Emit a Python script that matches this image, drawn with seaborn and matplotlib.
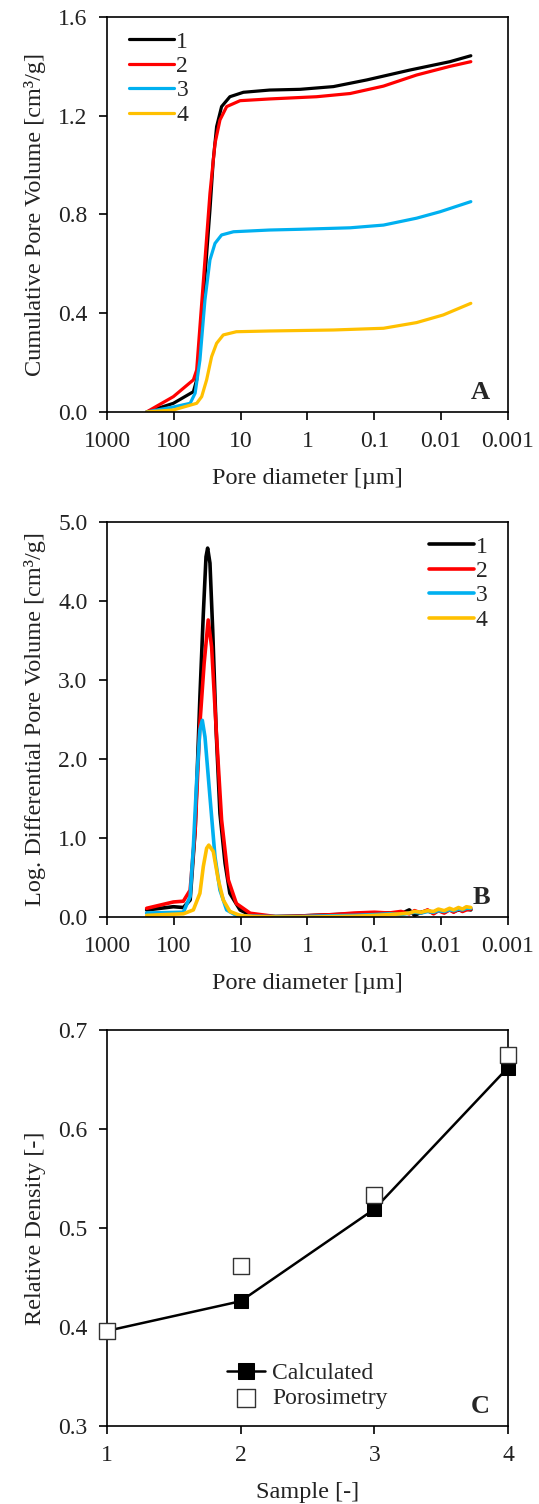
import matplotlib
matplotlib.use("Agg")
import matplotlib.pyplot as plt
import seaborn as sns
import pandas as pd

# ---- Panel A: cumulative pore volume (diameter in um, volume in cm3/g)
a1_d = [255, 101.6, 51, 45.5, 40.7, 34.2, 28.8, 25.7, 22.9, 19.3, 14.5, 9.1, 3.7, 1.29, 0.41, 0.13, 0.0295, 0.0074, 0.0036]
a1_v = [0.0, 0.035, 0.082, 0.13, 0.278, 0.548, 0.818, 1.02, 1.156, 1.237, 1.277, 1.295, 1.304, 1.307, 1.318, 1.345, 1.385, 1.419, 1.443]
a2_d = [255, 101.6, 51, 45.5, 40.7, 34.2, 28.8, 24.2, 20.4, 16.2, 10.2, 3.7, 0.73, 0.23, 0.073, 0.0233, 0.0074, 0.0036]
a2_v = [0.0, 0.062, 0.13, 0.17, 0.345, 0.616, 0.886, 1.088, 1.183, 1.237, 1.261, 1.268, 1.277, 1.29, 1.32, 1.365, 1.40, 1.419]
a3_d = [255, 101.6, 57, 48, 40.7, 34.2, 28.8, 24.2, 19.3, 12.8, 3.7, 1.29, 0.23, 0.073, 0.0233, 0.0104, 0.0036]
a3_v = [0.0, 0.02, 0.035, 0.076, 0.21, 0.454, 0.616, 0.683, 0.717, 0.73, 0.737, 0.74, 0.746, 0.757, 0.785, 0.811, 0.852]
a4_d = [255, 101.6, 45.5, 38.3, 32.3, 27.2, 22.9, 18.2, 11.6, 3.7, 0.41, 0.073, 0.0233, 0.0093, 0.0036]
a4_v = [0.0, 0.008, 0.035, 0.062, 0.13, 0.224, 0.278, 0.312, 0.325, 0.328, 0.332, 0.339, 0.362, 0.393, 0.44]

# ---- Panel B: log differential pore volume
tail_d = [3.0, 1.5, 0.8, 0.4, 0.2, 0.1, 0.06, 0.04, 0.03, 0.025, 0.02, 0.016, 0.013, 0.011, 0.009, 0.0075, 0.0065, 0.0055, 0.0048, 0.0042, 0.0036]
b1_d = [255, 101.6, 72, 57, 48, 40.7, 36.2, 33, 31.2, 28.8, 26.2, 23.3, 20.4, 17.1, 14.5, 10.2, 6.5] + tail_d
b1_v = [0.089, 0.13, 0.12, 0.215, 1.1, 2.79, 3.84, 4.56, 4.67, 4.48, 3.63, 2.37, 1.31, 0.68, 0.3, 0.089, 0.01,
        0.005, 0.01, 0.02, 0.03, 0.04, 0.05, 0.05, 0.04, 0.09, 0.02, 0.06, 0.08, 0.05, 0.09, 0.06, 0.10, 0.07, 0.09, 0.08, 0.10, 0.09]
b2_d = [255, 101.6, 72, 57, 48, 40.7, 35.2, 30.6, 27.2, 22.9, 19.3, 15.3, 11.6, 7.2] + tail_d
b2_v = [0.11, 0.19, 0.2, 0.34, 1.1, 2.45, 3.21, 3.76, 3.42, 2.28, 1.23, 0.47, 0.17, 0.047,
        0.005, 0.01, 0.02, 0.03, 0.05, 0.06, 0.05, 0.07, 0.04, 0.08, 0.05, 0.09, 0.04, 0.08, 0.05, 0.09, 0.06, 0.10, 0.07, 0.09, 0.10]
b3_d = [255, 72, 57, 51, 45.5, 40.7, 37.5, 34.2, 28.8, 24.2, 20.4, 16.2, 11.6, 6.5] + tail_d
b3_v = [0.05, 0.06, 0.26, 0.89, 1.73, 2.37, 2.49, 2.28, 1.52, 0.76, 0.34, 0.09, 0.02, 0.01,
        0.005, 0.005, 0.01, 0.015, 0.02, 0.03, 0.04, 0.03, 0.05, 0.06, 0.05, 0.07, 0.06, 0.08, 0.07, 0.09, 0.08, 0.10, 0.09, 0.11, 0.11]
b4_d = [255, 72, 51, 40.7, 36.2, 32.3, 30.0, 25.7, 21.6, 18.2, 14.5, 10.2, 6.5] + tail_d
b4_v = [0.02, 0.04, 0.09, 0.3, 0.64, 0.87, 0.91, 0.83, 0.47, 0.215, 0.07, 0.02, 0.005,
        0.0, 0.0, 0.0, 0.005, 0.01, 0.02, 0.03, 0.04, 0.05, 0.07, 0.06, 0.08, 0.07, 0.10, 0.08, 0.11, 0.09, 0.12, 0.10, 0.13, 0.12]

# ---- Panel C: relative density
samples = [1, 2, 3, 4]
calculated = [0.396, 0.426, 0.519, 0.662]
porosimetry = [0.396, 0.462, 0.533, 0.675]

labels = ["1", "2", "3", "4"]
colors = ["#000000", "#FF0000", "#00B0F0", "#FFC000"]
x_ticks = [1000, 100, 10, 1, 0.1, 0.01, 0.001]
x_ticklabels = ["1000", "100", "10", "1", "0.1", "0.01", "0.001"]

sns.set_theme(style="ticks")
plt.rcParams["font.family"] = ["Liberation Serif", "DejaVu Serif"]
plt.rcParams["font.size"] = 17
plt.rcParams["axes.linewidth"] = 1.2
plt.rcParams["lines.solid_joinstyle"] = "round"


def long_frame(ds, vs):
    rows = []
    for lab, d, v in zip(labels, ds, vs):
        rows.append(pd.DataFrame({"d": d, "v": v, "s": lab}))
    return pd.concat(rows, ignore_index=True)


def style_axes(ax, yticks, yfmt, ylabel, xlabel):
    for sp in ax.spines.values():
        sp.set_visible(True)
        sp.set_color("black")
        sp.set_linewidth(1.2)
    ax.set_yticks(yticks)
    ax.set_yticklabels([yfmt.format(t) for t in yticks])
    ax.set_ylabel(ylabel, fontsize=17.5, labelpad=9, color="#222222")
    ax.set_xlabel(xlabel, fontsize=17.5, labelpad=11, color="#222222")
    ax.tick_params(axis="both", which="major", direction="out", length=6, width=1.2,
                   labelsize=17, colors="black", labelcolor="#222222")
    ax.tick_params(axis="y", pad=8)
    ax.tick_params(axis="x", pad=8)
    ax.tick_params(which="minor", length=0)
    ax.grid(False)


def log_x(ax):
    ax.set_xscale("log")
    ax.set_xlim(1000, 0.001)
    ax.set_xticks(x_ticks)
    ax.set_xticklabels(x_ticklabels)
    ax.minorticks_off()


fig = plt.figure(figsize=(5.39, 15.04), dpi=100)
ax_a = fig.add_axes([0.1985, 0.7261, 0.744, 0.2626])
ax_b = fig.add_axes([0.1985, 0.3903, 0.744, 0.2626])
ax_c = fig.add_axes([0.1985, 0.0519, 0.744, 0.2633])

# Panel A
df_a = long_frame([a1_d, a2_d, a3_d, a4_d], [a1_v, a2_v, a3_v, a4_v])
sns.lineplot(data=df_a, x="d", y="v", hue="s", palette=colors, estimator=None, sort=False,
             linewidth=2.3, ax=ax_a)
log_x(ax_a)
ax_a.set_ylim(0, 1.6)
style_axes(ax_a, [0.0, 0.4, 0.8, 1.2, 1.6], "{:.1f}", "Cumulative Pore Volume [cm³/g]", "Pore diameter [µm]")
ax_a.legend(loc="upper left", frameon=False, fontsize=17, handlelength=1.9, handletextpad=0.1,
            labelspacing=0.12, borderaxespad=0.2, bbox_to_anchor=(0.02, 1.0))
ax_a.text(0.955, 0.02, "A", transform=ax_a.transAxes, fontsize=19, fontweight="bold", ha="right", va="bottom")

# Panel B
df_b = long_frame([b1_d, b2_d, b3_d, b4_d], [b1_v, b2_v, b3_v, b4_v])
sns.lineplot(data=df_b, x="d", y="v", hue="s", palette=colors, estimator=None, sort=False,
             linewidth=2.6, ax=ax_b)
log_x(ax_b)
ax_b.set_ylim(0, 5.0)
style_axes(ax_b, [0.0, 1.0, 2.0, 3.0, 4.0, 5.0], "{:.1f}", "Log. Differential Pore Volume [cm³/g]", "Pore diameter [µm]")
ax_b.legend(loc="upper right", frameon=False, fontsize=17, handlelength=1.9, handletextpad=0.1,
            labelspacing=0.12, borderaxespad=0.2, bbox_to_anchor=(0.985, 1.0))
ax_b.text(0.955, 0.02, "B", transform=ax_b.transAxes, fontsize=19, fontweight="bold", ha="right", va="bottom")

# Panel C
sns.lineplot(x=samples, y=calculated, color="black", linewidth=1.8, marker="s", markersize=10,
             markeredgecolor="black", markerfacecolor="black", label="Calculated", ax=ax_c, clip_on=False, zorder=3)
sns.scatterplot(x=samples, y=porosimetry, marker="s", s=120, color="white", edgecolor="#333333",
                linewidth=1.0, label="Porosimetry", ax=ax_c, clip_on=False, zorder=4)
ax_c.set_xlim(1, 4)
ax_c.set_ylim(0.3, 0.7)
ax_c.set_xticks(samples)
style_axes(ax_c, [0.3, 0.4, 0.5, 0.6, 0.7], "{:.1f}", "Relative Density [-]", "Sample [-]")
ax_c.legend(loc="lower center", frameon=False, fontsize=17, handlelength=1.6, handletextpad=0.3,
            labelspacing=0.15, markerscale=1.15, bbox_to_anchor=(0.5, -0.012))
ax_c.text(0.955, 0.02, "C", transform=ax_c.transAxes, fontsize=19, fontweight="bold", ha="right", va="bottom")

fig.savefig("out.png", dpi=100)
